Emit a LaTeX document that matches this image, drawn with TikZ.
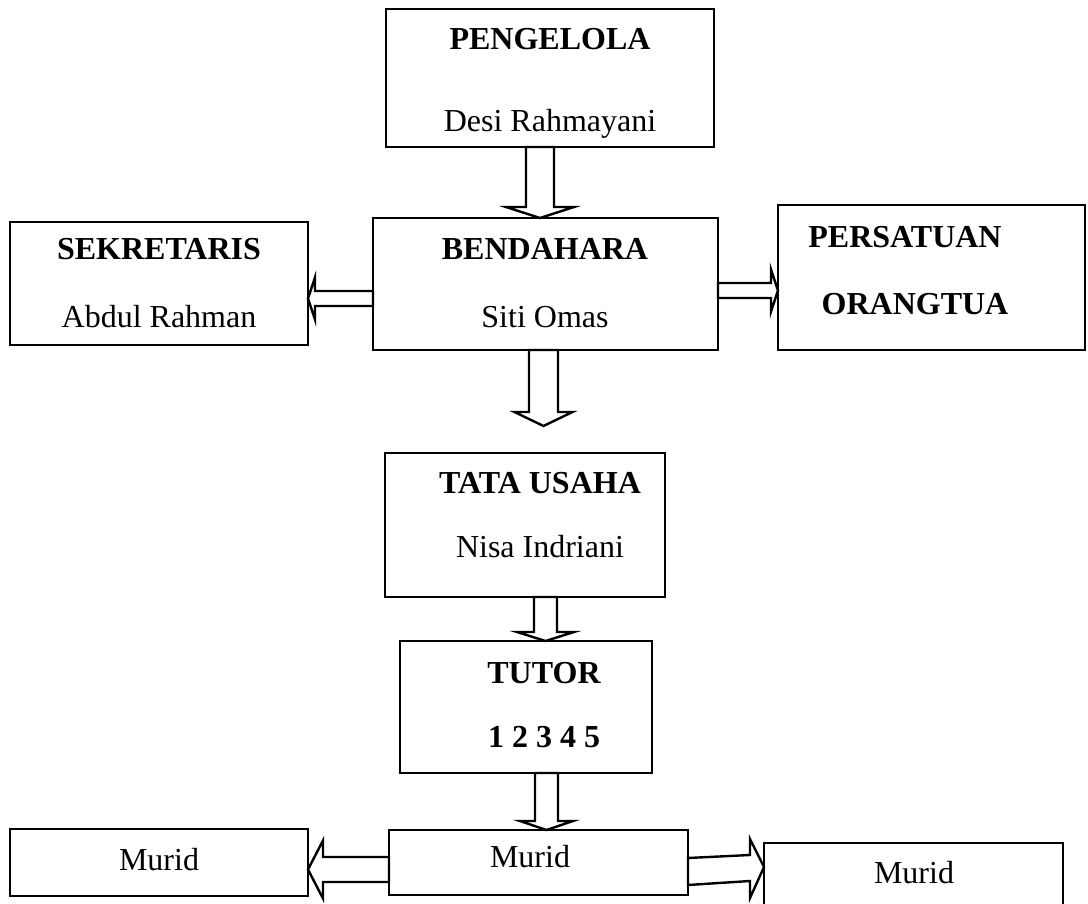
\documentclass[tikz,border=0pt]{standalone}
\usepackage{fontspec}
\setmainfont{Liberation Serif}
\usetikzlibrary{calc}
\tikzset{
  box/.style={draw=black, line width=2.6pt, fill=white, inner sep=0pt, outer sep=0pt},
  barrow/.style={draw=black, line width=2.4pt, fill=white, line join=miter},
  tb/.style={anchor=base, inner sep=0pt, font=\fontsize{32}{38}\selectfont\bfseries},
  tn/.style={anchor=base, inner sep=0pt, font=\fontsize{32}{38}\selectfont},
}
% vertical block arrow: #1 start, #2 tip, #3 shaft half width, #4 head half width, #5 head length (signed)
\newcommand\varr[5]{%
  \draw[barrow] let \p1=(#1), \p2=(#2) in
    (\x1-#3pt,\y1) -- (\x1+#3pt,\y1) -- (\x1+#3pt,\y2+#5pt) -- (\x1+#4pt,\y2+#5pt)
    -- (\x1,\y2) -- (\x1-#4pt,\y2+#5pt) -- (\x1-#3pt,\y2+#5pt) -- cycle;}
% horizontal block arrow
\newcommand\harr[5]{%
  \draw[barrow] let \p1=(#1), \p2=(#2) in
    (\x1,\y1+#3pt) -- (\x2+#5pt,\y1+#3pt) -- (\x2+#5pt,\y1+#4pt) -- (\x2,\y1)
    -- (\x2+#5pt,\y1-#4pt) -- (\x2+#5pt,\y1-#3pt) -- (\x1,\y1-#3pt) -- cycle;}
\begin{document}
\begin{tikzpicture}[x=1pt,y=-1pt]
\useasboundingbox (0,0) rectangle (1088,904);
% boxes
\node[box, minimum width=328pt, minimum height=138pt] (pen) at (550,78) {};
\node[box, minimum width=298pt, minimum height=123pt] (sek) at (159,283.5) {};
\node[box, minimum width=345pt, minimum height=132pt] (ben) at (545.5,284) {};
\node[box, minimum width=307pt, minimum height=145pt] (per) at (931.5,277.5) {};
\node[box, minimum width=280pt, minimum height=144pt] (tata) at (525,525) {};
\node[box, minimum width=252pt, minimum height=132pt] (tut) at (526,707) {};
\node[box, minimum width=298pt, minimum height=67pt] (ml) at (159,862.5) {};
\node[box, minimum width=299pt, minimum height=65pt] (mc) at (538.5,862.5) {};
\node[box, minimum width=299pt, minimum height=80pt] (mr) at (913.5,883) {};
% texts
\node[tb] (t1) at (550,50) {PENGELOLA};
\node[tn] (t2) at (550,132) {Desi Rahmayani};
\node[tb] (t3) at (159,260) {SEKRETARIS};
\node[tn] (t4) at (159,328) {Abdul Rahman};
\node[tb] (t5) at (545,260) {BENDAHARA};
\node[tn] (t6) at (545,328) {Siti Omas};
\node[tb] (t7) at (905,248) {PERSATUAN};
\node[tb] (t8) at (915,315) {ORANGTUA};
\node[tb] (t9) at (540,493) {TATA USAHA};
\node[tn] (t10) at (540,557) {Nisa Indriani};
\node[tb] (t11) at (544,683) {TUTOR};
\node[tb] (t12) at (544,747) {1 2 3 4 5};
\node[tn] (t13) at (159,870) {Murid};
\node[tn] (t14) at (530,867) {Murid};
\node[tn] (t15) at (914,883) {Murid};
% arrow axes
\coordinate (a1) at (540,0);
\coordinate (a2) at (543.5,0);
\coordinate (a3) at (545.5,0);
\coordinate (a4) at (546.5,0);
\coordinate (t4tip) at (543.5,426);
% arrows
\varr{a1 |- pen.south}{a1 |- ben.north}{14}{34}{11}
\harr{ben.west |- 0,298.5}{sek.east |- 0,298.5}{7.5}{21}{7}
\harr{ben.east |- 0,290.5}{per.west |- 0,290.5}{7.5}{21}{-7}
\varr{a2 |- ben.south}{t4tip}{14.5}{29}{14}
\varr{a3 |- tata.south}{a3 |- tut.north}{11.5}{28.5}{9}
\varr{a4 |- tut.south}{a4 |- mc.north}{11.5}{26.5}{9}
\harr{mc.west |- 0,869.5}{ml.east |- 0,869.5}{12.5}{29}{15}
\draw[barrow] (mc.east |- 0,858) -- (750,855) -- (750,839) -- (mr.west |- 0,867)
  -- (750,898) -- (750,881) -- (mc.east |- 0,885) -- cycle;
\end{tikzpicture}
\end{document}
